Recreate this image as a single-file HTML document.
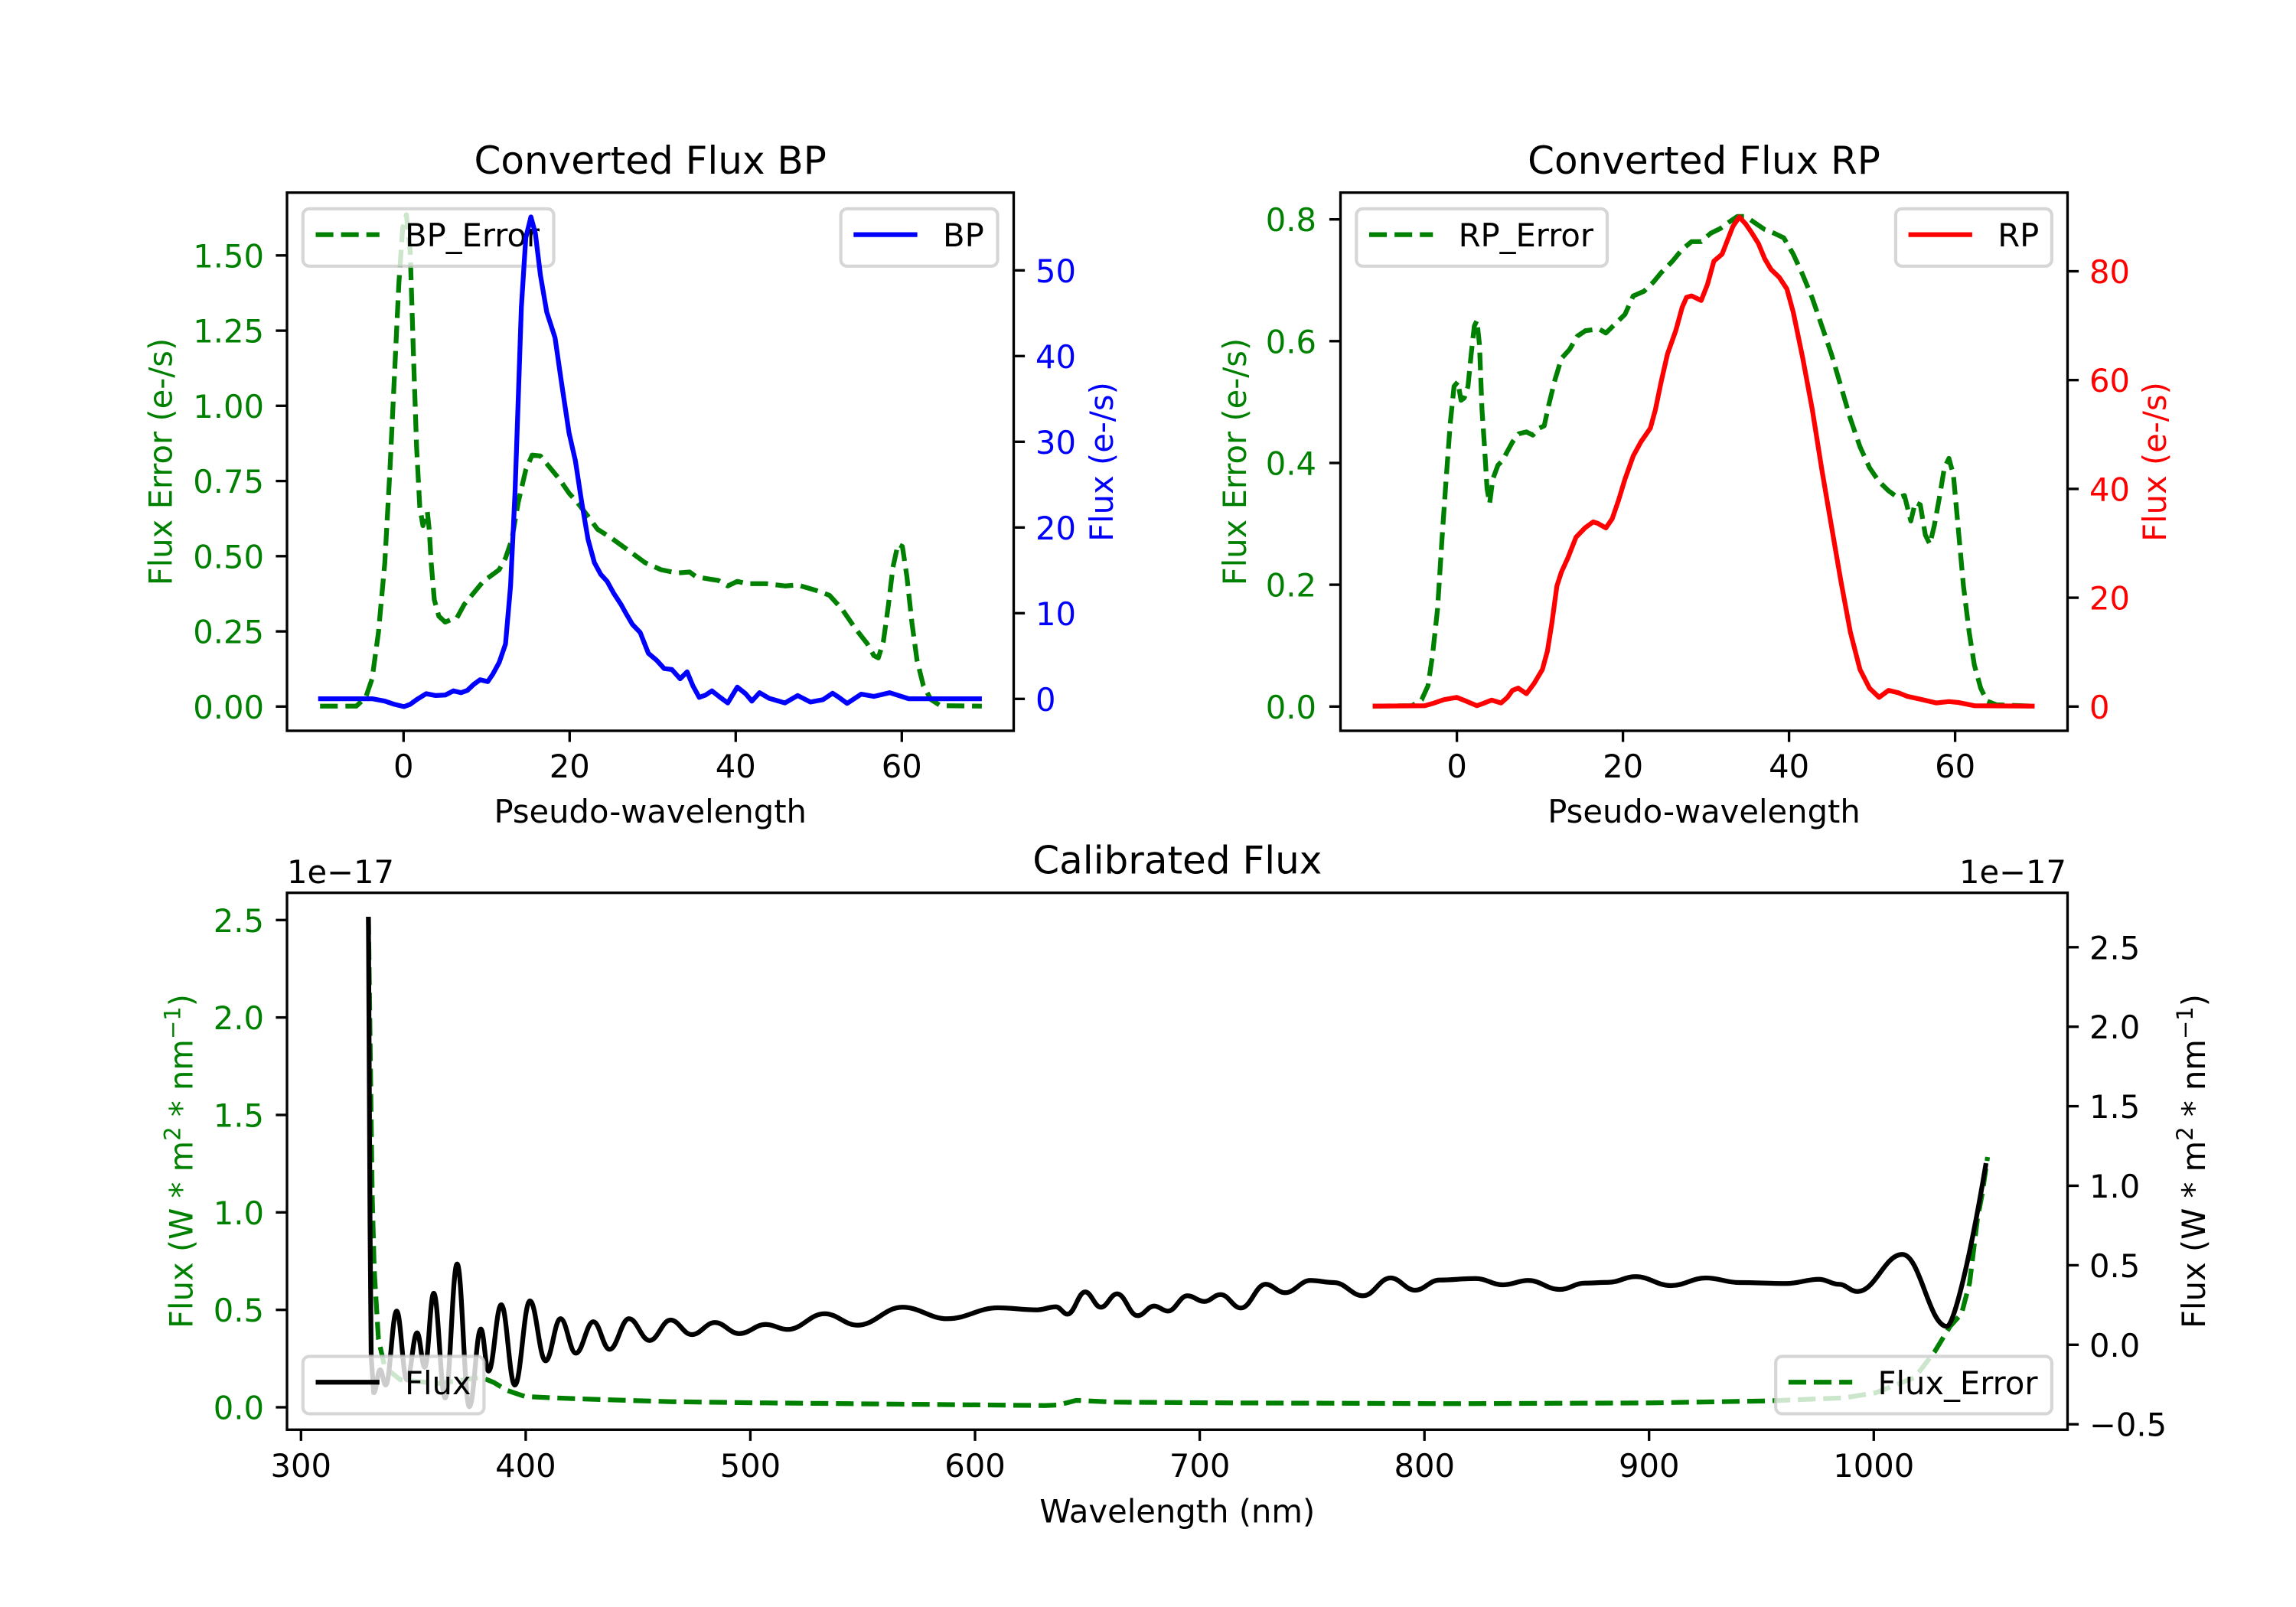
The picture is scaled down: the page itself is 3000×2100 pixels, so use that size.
<!DOCTYPE html>
<html>
<head>
<meta charset="utf-8">
<style>
html,body{margin:0;padding:0;background:#fff;}
svg{display:block;}
text{font-family:"DejaVu Sans","Liberation Sans",sans-serif;}
</style>
</head>
<body>
<svg width="3000" height="2100" viewBox="0 0 3000 2100" xmlns="http://www.w3.org/2000/svg">
<rect x="0" y="0" width="3000" height="2100" fill="#ffffff"/>

<!-- ================= BP PANEL ================= -->
<path fill="none" stroke="#008000" stroke-width="6.25" stroke-dasharray="23.1 10" stroke-linejoin="round" d="M418.2,922.8 L465.5,922.8 L477.9,911.3 L486.2,887.0 L494.5,826.4 L502.8,735.4 L509.5,614.1 L515.3,492.8 L521.1,371.5 L526.1,298.7 L531.0,280.5 L536.0,329.0 L540.2,462.5 L544.3,583.8 L548.5,662.6 L552.6,686.9 L558.4,668.7 L560.9,692.9 L563.4,735.4 L567.5,783.9 L573.4,805.2 L581.7,813.0 L590.0,809.4 L596.6,808.2 L606.5,790.0 L619.0,774.8 L631.4,759.7 L643.9,750.6 L652.2,744.5 L660.5,729.3 L668.8,705.1 L677.1,656.6 L687.0,614.1 L695.3,594.7 L706.1,595.9 L718.6,611.1 L731.0,626.2 L743.5,644.4 L754.3,656.6 L768.4,674.8 L780.8,691.7 L797.4,702.1 L818.2,717.2 L843.0,735.4 L863.8,744.5 L884.5,748.8 L901.1,747.5 L909.4,753.6 L926.0,756.6 L938.5,758.5 L950.9,765.7 L963.4,759.7 L975.8,762.7 L1000.7,762.7 L1025.6,765.7 L1042.2,764.5 L1067.1,771.8 L1083.7,777.9 L1100.3,796.1 L1116.9,820.3 L1133.5,841.6 L1141.8,856.7 L1147.6,859.8 L1154.2,838.5 L1160.9,790.0 L1166.7,741.5 L1173.3,711.2 L1179.1,714.2 L1185.0,753.6 L1191.6,814.3 L1198.2,862.8 L1206.5,896.1 L1216.5,914.3 L1228.9,922.2 L1282.9,922.8"/>
<rect x="395.8" y="272.8" width="327.7" height="75" rx="8.3" fill="#ffffff" fill-opacity="0.8" stroke="#cccccc" stroke-opacity="0.8" stroke-width="4.17"/>
<line x1="412.5" y1="306.6" x2="495.8" y2="306.6" stroke="#008000" stroke-width="6.25" stroke-dasharray="23.1 10"/>
<text x="529" y="322" font-size="41.67" fill="#000">BP_Error</text>
<path fill="none" stroke="#0000ff" stroke-width="6.25" stroke-linejoin="round" d="M415.7,913.1 L486.2,913.1 L502.8,916.2 L515.3,920.4 L527.7,923.4 L536.0,920.4 L544.3,914.3 L556.8,906.5 L569.2,908.9 L581.7,908.3 L592.4,902.8 L602.4,905.2 L610.7,902.2 L619.0,894.3 L627.3,888.3 L637.3,890.7 L643.9,881.0 L652.2,865.8 L660.5,841.6 L667.1,765.7 L672.9,644.4 L677.1,523.1 L681.2,401.8 L687.0,310.8 L693.7,283.5 L699.5,304.8 L706.1,359.4 L714.4,407.9 L725.2,441.2 L733.5,498.9 L743.5,565.6 L751.8,602.0 L760.1,656.6 L768.4,705.1 L776.7,735.4 L785.0,750.6 L793.3,759.7 L801.6,774.8 L811.5,790.0 L818.2,802.1 L826.4,816.1 L836.4,826.4 L847.2,853.7 L857.9,862.8 L867.9,873.7 L877.9,874.9 L888.7,887.0 L897.8,877.9 L905.3,896.1 L913.6,911.3 L921.9,908.3 L930.2,902.8 L941.0,911.3 L950.9,918.6 L963.4,897.9 L974.2,906.5 L982.4,916.2 L992.4,905.2 L1004.9,912.5 L1025.6,918.6 L1042.2,908.9 L1058.8,917.4 L1075.4,914.3 L1087.8,905.9 L1096.1,911.3 L1106.9,919.2 L1125.2,907.1 L1141.8,910.1 L1162.5,905.2 L1187.4,913.1 L1282.9,913.1"/>
<rect x="1098.6" y="272.8" width="204.9" height="75" rx="8.3" fill="#ffffff" fill-opacity="0.8" stroke="#cccccc" stroke-opacity="0.8" stroke-width="4.17"/>
<line x1="1115.3" y1="306.6" x2="1198.6" y2="306.6" stroke="#0000ff" stroke-width="6.25"/>
<text x="1232" y="322" font-size="41.67" fill="#000">BP</text>
<rect x="375" y="251.7" width="949.5" height="703.3" fill="none" stroke="#000" stroke-width="3.33"/>
<g stroke="#000" stroke-width="3.33">
<line x1="360.4" y1="923.3" x2="375" y2="923.3"/>
<line x1="360.4" y1="825.1" x2="375" y2="825.1"/>
<line x1="360.4" y1="726.8" x2="375" y2="726.8"/>
<line x1="360.4" y1="628.6" x2="375" y2="628.6"/>
<line x1="360.4" y1="530.3" x2="375" y2="530.3"/>
<line x1="360.4" y1="432.1" x2="375" y2="432.1"/>
<line x1="360.4" y1="333.8" x2="375" y2="333.8"/>
<line x1="1324.5" y1="913.3" x2="1339.1" y2="913.3"/>
<line x1="1324.5" y1="801.3" x2="1339.1" y2="801.3"/>
<line x1="1324.5" y1="689.3" x2="1339.1" y2="689.3"/>
<line x1="1324.5" y1="577.3" x2="1339.1" y2="577.3"/>
<line x1="1324.5" y1="465.3" x2="1339.1" y2="465.3"/>
<line x1="1324.5" y1="353.3" x2="1339.1" y2="353.3"/>
<line x1="527.3" y1="955" x2="527.3" y2="969.6"/>
<line x1="744.3" y1="955" x2="744.3" y2="969.6"/>
<line x1="961.3" y1="955" x2="961.3" y2="969.6"/>
<line x1="1178.3" y1="955" x2="1178.3" y2="969.6"/>
</g>
<g font-size="41.67" fill="#008000" text-anchor="end">
<text x="345" y="938.8">0.00</text>
<text x="345" y="840.6">0.25</text>
<text x="345" y="742.3">0.50</text>
<text x="345" y="644.1">0.75</text>
<text x="345" y="545.8">1.00</text>
<text x="345" y="447.6">1.25</text>
<text x="345" y="349.3">1.50</text>
</g>
<g font-size="41.67" fill="#0000ff" text-anchor="start">
<text x="1353" y="928.8">0</text>
<text x="1353" y="816.8">10</text>
<text x="1353" y="704.8">20</text>
<text x="1353" y="592.8">30</text>
<text x="1353" y="480.8">40</text>
<text x="1353" y="368.8">50</text>
</g>
<g font-size="41.67" fill="#000" text-anchor="middle">
<text x="527.3" y="1016">0</text>
<text x="744.3" y="1016">20</text>
<text x="961.3" y="1016">40</text>
<text x="1178.3" y="1016">60</text>
<text x="849.7" y="1075">Pseudo-wavelength</text>
</g>
<text x="849.7" y="227" font-size="50" text-anchor="middle" fill="#000">Converted Flux BP</text>
<text transform="translate(224.5,603.5) rotate(-90)" font-size="41.67" text-anchor="middle" fill="#008000">Flux Error (e-/s)</text>
<text transform="translate(1454,603.5) rotate(-90)" font-size="41.67" text-anchor="middle" fill="#0000ff">Flux (e-/s)</text>

<!-- ================= RP PANEL ================= -->
<path fill="none" stroke="#008000" stroke-width="6.25" stroke-dasharray="23.1 10" stroke-linejoin="round" d="M1793.6,922.8 L1845.1,922.2 L1857.6,914.3 L1865.9,896.1 L1871.7,856.7 L1878.3,796.1 L1884.1,705.1 L1889.1,632.3 L1894.9,553.5 L1899.9,504.9 L1904.9,498.9 L1909.0,523.1 L1913.2,520.1 L1918.1,504.9 L1922.3,462.5 L1926.4,426.1 L1929.8,418.8 L1933.1,450.3 L1936.4,535.3 L1939.7,583.8 L1943.0,638.4 L1946.4,657.8 L1950.5,626.2 L1957.2,608.0 L1963.0,602.0 L1969.6,589.8 L1976.2,577.7 L1984.5,566.8 L1994.5,564.4 L2002.8,568.6 L2011.1,559.5 L2017.7,556.5 L2023.6,529.2 L2031.9,495.8 L2040.2,468.5 L2051.0,456.4 L2060.9,439.4 L2071.7,432.1 L2081.7,430.9 L2090.0,430.3 L2098.3,435.2 L2110.7,423.0 L2123.2,410.9 L2134.0,386.7 L2148.1,380.6 L2160.5,368.5 L2170.5,356.3 L2185.4,341.2 L2197.9,326.0 L2210.3,315.7 L2222.8,315.7 L2235.2,304.8 L2247.7,298.7 L2260.1,289.6 L2270.1,282.9 L2280.9,282.9 L2293.3,291.4 L2305.8,299.9 L2318.2,304.8 L2330.7,310.8 L2343.1,332.1 L2355.6,359.4 L2368.0,389.7 L2380.5,426.1 L2392.9,462.5 L2405.4,504.9 L2417.8,547.4 L2430.3,583.8 L2442.7,611.1 L2455.2,629.3 L2467.6,641.4 L2480.1,650.5 L2488.4,647.5 L2496.7,680.8 L2502.5,656.6 L2509.1,659.6 L2515.7,699.0 L2521.6,711.2 L2527.4,686.9 L2534.0,650.5 L2540.6,611.1 L2546.5,599.0 L2552.3,620.2 L2558.9,692.9 L2565.5,765.7 L2573.0,826.4 L2579.7,868.9 L2588.0,899.2 L2596.3,916.2 L2608.7,921.0 L2658.5,922.8"/>
<rect x="1772.3" y="272.8" width="327.7" height="75" rx="8.3" fill="#ffffff" fill-opacity="0.8" stroke="#cccccc" stroke-opacity="0.8" stroke-width="4.17"/>
<line x1="1789" y1="306.6" x2="1872.3" y2="306.6" stroke="#008000" stroke-width="6.25" stroke-dasharray="23.1 10"/>
<text x="1905.6" y="322" font-size="41.67" fill="#000">RP_Error</text>
<path fill="none" stroke="#ff0000" stroke-width="6.25" stroke-linejoin="round" d="M1793.6,922.8 L1861.7,922.2 L1874.2,918.6 L1886.6,914.3 L1903.2,911.3 L1915.7,916.2 L1929.8,922.2 L1938.1,919.2 L1948.9,914.9 L1961.3,918.6 L1969.6,911.3 L1976.2,902.2 L1983.7,899.2 L1994.5,906.5 L2004.5,893.1 L2015.3,874.9 L2021.9,850.7 L2027.7,814.3 L2034.3,765.7 L2040.2,747.5 L2048.5,729.3 L2059.2,702.1 L2070.9,689.9 L2081.7,682.0 L2087.5,683.9 L2098.3,689.9 L2106.6,677.8 L2114.9,653.5 L2123.2,626.2 L2134.0,595.9 L2143.9,577.7 L2156.4,559.5 L2163.0,535.3 L2170.5,498.9 L2178.8,462.5 L2189.6,432.1 L2197.9,401.8 L2203.7,388.5 L2210.3,386.7 L2222.8,392.7 L2231.1,371.5 L2239.4,341.2 L2250.1,332.1 L2256.0,316.9 L2264.3,295.7 L2272.6,283.5 L2280.9,292.6 L2289.2,304.8 L2297.5,318.1 L2305.8,338.1 L2314.1,352.1 L2324.8,362.4 L2334.8,377.6 L2343.1,407.9 L2355.6,468.5 L2368.0,535.3 L2380.5,614.1 L2392.9,686.9 L2405.4,759.7 L2417.8,826.4 L2430.3,874.9 L2442.7,899.2 L2455.2,911.3 L2467.6,902.2 L2480.1,905.2 L2492.5,910.1 L2509.1,913.7 L2529.9,918.6 L2546.5,916.8 L2558.9,918.0 L2579.7,922.2 L2658.5,922.8"/>
<rect x="2476.9" y="272.8" width="204" height="75" rx="8.3" fill="#ffffff" fill-opacity="0.8" stroke="#cccccc" stroke-opacity="0.8" stroke-width="4.17"/>
<line x1="2493.6" y1="306.6" x2="2576.9" y2="306.6" stroke="#ff0000" stroke-width="6.25"/>
<text x="2610.2" y="322" font-size="41.67" fill="#000">RP</text>
<rect x="1751.5" y="251.7" width="950" height="703.3" fill="none" stroke="#000" stroke-width="3.33"/>
<g stroke="#000" stroke-width="3.33">
<line x1="1736.9" y1="923.3" x2="1751.5" y2="923.3"/>
<line x1="1736.9" y1="764.1" x2="1751.5" y2="764.1"/>
<line x1="1736.9" y1="605.0" x2="1751.5" y2="605.0"/>
<line x1="1736.9" y1="445.8" x2="1751.5" y2="445.8"/>
<line x1="1736.9" y1="286.7" x2="1751.5" y2="286.7"/>
<line x1="2701.5" y1="923.3" x2="2716.1" y2="923.3"/>
<line x1="2701.5" y1="781.1" x2="2716.1" y2="781.1"/>
<line x1="2701.5" y1="638.9" x2="2716.1" y2="638.9"/>
<line x1="2701.5" y1="496.7" x2="2716.1" y2="496.7"/>
<line x1="2701.5" y1="354.5" x2="2716.1" y2="354.5"/>
<line x1="1903.6" y1="955" x2="1903.6" y2="969.6"/>
<line x1="2120.6" y1="955" x2="2120.6" y2="969.6"/>
<line x1="2337.6" y1="955" x2="2337.6" y2="969.6"/>
<line x1="2554.6" y1="955" x2="2554.6" y2="969.6"/>
</g>
<g font-size="41.67" fill="#008000" text-anchor="end">
<text x="1720" y="938.8">0.0</text>
<text x="1720" y="779.6">0.2</text>
<text x="1720" y="620.5">0.4</text>
<text x="1720" y="461.3">0.6</text>
<text x="1720" y="302.2">0.8</text>
</g>
<g font-size="41.67" fill="#ff0000" text-anchor="start">
<text x="2730" y="938.8">0</text>
<text x="2730" y="796.6">20</text>
<text x="2730" y="654.4">40</text>
<text x="2730" y="512.2">60</text>
<text x="2730" y="370.0">80</text>
</g>
<g font-size="41.67" fill="#000" text-anchor="middle">
<text x="1903.6" y="1016">0</text>
<text x="2120.6" y="1016">20</text>
<text x="2337.6" y="1016">40</text>
<text x="2554.6" y="1016">60</text>
<text x="2226.5" y="1075">Pseudo-wavelength</text>
</g>
<text x="2226.5" y="227" font-size="50" text-anchor="middle" fill="#000">Converted Flux RP</text>
<text transform="translate(1628,603.5) rotate(-90)" font-size="41.67" text-anchor="middle" fill="#008000">Flux Error (e-/s)</text>
<text transform="translate(2830,603.5) rotate(-90)" font-size="41.67" text-anchor="middle" fill="#ff0000">Flux (e-/s)</text>

<!-- ================= CALIBRATED PANEL ================= -->
<path fill="none" stroke="#008000" stroke-width="6.25" stroke-dasharray="23.1 10" stroke-linejoin="round" d="M481.4,1198 L486.3,1560 L489,1660 L494.5,1750 L502.7,1786.7 L523,1803 L572,1808 L629,1800 L645.5,1806.7 L661.8,1816.7 L686.3,1825 L723,1826.7 L796.5,1829.3 L878,1831.7 L1000.6,1833.3 L1110,1834.3 L1365,1836.7 L1383,1836 L1406,1830 L1457,1832.3 L1610,1833.3 L1900,1834.3 L2155,1833.3 L2308,1830.7 L2410,1826.7 L2451,1820 L2502,1800 L2527.6,1766.7 L2548,1733.3 L2563,1716.7 L2573.5,1676.7 L2583.7,1593.3 L2590,1560 L2597,1512"/>
<rect x="2320.2" y="1772.5" width="360.7" height="75" rx="8.3" fill="#ffffff" fill-opacity="0.8" stroke="#cccccc" stroke-opacity="0.8" stroke-width="4.17"/>
<line x1="2336.9" y1="1806.3" x2="2420.2" y2="1806.3" stroke="#008000" stroke-width="6.25" stroke-dasharray="23.1 10"/>
<text x="2453.5" y="1822" font-size="41.67" fill="#000">Flux_Error</text>
<path fill="none" stroke="#000" stroke-width="6.25" stroke-linejoin="round" d="M481.4,1198 L483.5,1600 L485,1773 L488.3,1820
C491.7,1820 493.3,1790 496.7,1790
C499.6,1790 501.1,1810 504,1810
C509.7,1810 512.6,1713.3 518.3,1713.3
C523.7,1713.3 526.3,1803.3 531.7,1803.3
C537.0,1803.3 539.7,1741.7 545,1741.7
C549,1741.7 551,1786.7 555,1786.7
C559.7,1786.7 562.0,1690 566.7,1690
C572.7,1690 575.7,1826.7 581.7,1826.7
C587.9,1826.7 591.1,1651.7 597.3,1651.7
C603.7,1651.7 606.9,1838.3 613.3,1838.3
C619.3,1838.3 622.3,1736.7 628.3,1736.7
C632.3,1736.7 634.3,1791.7 638.3,1791.7
C645.0,1791.7 648.3,1705 655,1705
C662.1,1705 665.6,1810 672.7,1810
C680.6,1810 684.5,1700 692.4,1700
C700.6,1700 704.7,1778.3 712.9,1778.3
C720.7,1778.3 724.6,1723.3 732.4,1723.3
C740.4,1723.3 744.4,1768.3 752.4,1768.3
C761.6,1768.3 766.1,1727.3 775.3,1727.3
C783.8,1727.3 788.0,1763.3 796.5,1763.3
C806.6,1763.3 811.7,1723.3 821.8,1723.3
C832.6,1723.3 838.0,1751.7 848.8,1751.7
C859.7,1751.7 865.2,1725 876.1,1725
C887.2,1725 892.8,1744 903.9,1744
C916.0,1744 922.0,1728.3 934.1,1728.3
C946.8,1728.3 953.2,1742.7 965.9,1742.7
C979.8,1742.7 986.7,1730.7 1000.6,1730.7
C1012.0,1730.7 1017.8,1737.3 1029.2,1737.3
C1048.4,1737.3 1058.1,1716.7 1077.3,1716.7
C1094.5,1716.7 1103.2,1731.7 1120.4,1731.7
C1143.8,1731.7 1155.6,1708.3 1179,1708.3
C1202.5,1708.3 1214.3,1723.3 1237.8,1723.3
C1264.3,1723.3 1277.5,1709 1304,1709
C1324.4,1709 1334.6,1711.7 1355,1711.7
C1364.8,1711.7 1369.8,1707.7 1379.6,1707.7
C1385.7,1707.7 1388.8,1717.3 1394.9,1717.3
C1404.1,1717.3 1408.7,1688.3 1417.9,1688.3
C1426.1,1688.3 1430.1,1708.3 1438.3,1708.3
C1446.9,1708.3 1451.1,1690.7 1459.7,1690.7
C1470.3,1690.7 1475.6,1719.3 1486.2,1719.3
C1495.0,1719.3 1499.4,1706.7 1508.2,1706.7
C1515.3,1706.7 1518.9,1713.3 1526,1713.3
C1536.2,1713.3 1541.3,1693.3 1551.5,1693.3
C1560.3,1693.3 1564.7,1700.7 1573.5,1700.7
C1582.1,1700.7 1586.3,1691.7 1594.9,1691.7
C1605.5,1691.7 1610.8,1709.3 1621.4,1709.3
C1634.3,1709.3 1640.7,1678.3 1653.6,1678.3
C1663.8,1678.3 1668.9,1689.3 1679.1,1689.3
C1692.3,1689.3 1699.0,1673.3 1712.2,1673.3
C1724.5,1673.3 1730.6,1676 1742.9,1676
C1758.2,1676 1765.8,1693.3 1781.1,1693.3
C1795.4,1693.3 1802.5,1670 1816.8,1670
C1829.7,1670 1836.1,1686 1849,1686
C1861.6,1686 1868.0,1672.7 1880.6,1672.7
C1899.6,1672.7 1909.0,1670.7 1928,1670.7
C1942.3,1670.7 1949.5,1679 1963.8,1679
C1977.0,1679 1983.7,1673.3 1996.9,1673.3
C2013.3,1673.3 2021.4,1685 2037.8,1685
C2051.0,1685 2057.7,1676.7 2070.9,1676.7
C2083.1,1676.7 2089.3,1675.7 2101.5,1675.7
C2115.8,1675.7 2122.9,1668.3 2137.2,1668.3
C2155.6,1668.3 2164.8,1680 2183.2,1680
C2201.6,1680 2210.7,1670 2229.1,1670
C2246.4,1670 2255.1,1676 2272.4,1676
C2296.9,1676 2309.2,1677.3 2333.7,1677.3
C2351.0,1677.3 2359.7,1671.7 2377,1671.7
C2387.2,1671.7 2392.4,1678.3 2402.6,1678.3
C2412.4,1678.3 2417.2,1687.7 2427,1687.7
C2450.5,1687.7 2462.2,1639.3 2485.7,1639.3
C2509.0,1639.3 2520.6,1733.3 2543.9,1733.3
C2553,1733.3 2575,1640 2595,1520"/>
<rect x="395.8" y="1772.5" width="236.6" height="75" rx="8.3" fill="#ffffff" fill-opacity="0.8" stroke="#cccccc" stroke-opacity="0.8" stroke-width="4.17"/>
<line x1="412.5" y1="1806.3" x2="495.8" y2="1806.3" stroke="#000" stroke-width="6.25"/>
<text x="529" y="1822" font-size="41.67" fill="#000">Flux</text>
<rect x="375" y="1166.7" width="2326.5" height="701.6" fill="none" stroke="#000" stroke-width="3.33"/>
<g stroke="#000" stroke-width="3.33">
<line x1="360.4" y1="1839" x2="375" y2="1839"/>
<line x1="360.4" y1="1711.7" x2="375" y2="1711.7"/>
<line x1="360.4" y1="1584.3" x2="375" y2="1584.3"/>
<line x1="360.4" y1="1457.0" x2="375" y2="1457.0"/>
<line x1="360.4" y1="1329.6" x2="375" y2="1329.6"/>
<line x1="360.4" y1="1202.3" x2="375" y2="1202.3"/>
<line x1="2701.5" y1="1861.2" x2="2716.1" y2="1861.2"/>
<line x1="2701.5" y1="1757.3" x2="2716.1" y2="1757.3"/>
<line x1="2701.5" y1="1653.4" x2="2716.1" y2="1653.4"/>
<line x1="2701.5" y1="1549.5" x2="2716.1" y2="1549.5"/>
<line x1="2701.5" y1="1445.6" x2="2716.1" y2="1445.6"/>
<line x1="2701.5" y1="1341.7" x2="2716.1" y2="1341.7"/>
<line x1="2701.5" y1="1237.8" x2="2716.1" y2="1237.8"/>
<line x1="393.3" y1="1868.3" x2="393.3" y2="1882.9"/>
<line x1="686.9" y1="1868.3" x2="686.9" y2="1882.9"/>
<line x1="980.4" y1="1868.3" x2="980.4" y2="1882.9"/>
<line x1="1274.0" y1="1868.3" x2="1274.0" y2="1882.9"/>
<line x1="1567.6" y1="1868.3" x2="1567.6" y2="1882.9"/>
<line x1="1861.2" y1="1868.3" x2="1861.2" y2="1882.9"/>
<line x1="2154.7" y1="1868.3" x2="2154.7" y2="1882.9"/>
<line x1="2448.3" y1="1868.3" x2="2448.3" y2="1882.9"/>
</g>
<g font-size="41.67" fill="#008000" text-anchor="end">
<text x="345" y="1854.5">0.0</text>
<text x="345" y="1727.2">0.5</text>
<text x="345" y="1599.8">1.0</text>
<text x="345" y="1472.5">1.5</text>
<text x="345" y="1345.1">2.0</text>
<text x="345" y="1217.8">2.5</text>
</g>
<g font-size="41.67" fill="#000" text-anchor="start">
<text x="2730" y="1876.7">−0.5</text>
<text x="2730" y="1772.8">0.0</text>
<text x="2730" y="1668.9">0.5</text>
<text x="2730" y="1565.0">1.0</text>
<text x="2730" y="1461.1">1.5</text>
<text x="2730" y="1357.2">2.0</text>
<text x="2730" y="1253.3">2.5</text>
</g>
<g font-size="41.67" fill="#000" text-anchor="middle">
<text x="393.3" y="1930">300</text>
<text x="686.9" y="1930">400</text>
<text x="980.4" y="1930">500</text>
<text x="1274.0" y="1930">600</text>
<text x="1567.6" y="1930">700</text>
<text x="1861.2" y="1930">800</text>
<text x="2154.7" y="1930">900</text>
<text x="2448.3" y="1930">1000</text>
<text x="1538.3" y="1989.5">Wavelength (nm)</text>
</g>
<text x="375" y="1154" font-size="41.67" fill="#000">1e−17</text>
<text x="2700" y="1154" font-size="41.67" fill="#000" text-anchor="end">1e−17</text>
<text x="1538.3" y="1141.7" font-size="50" text-anchor="middle" fill="#000">Calibrated Flux</text>
<text transform="translate(251.5,1517.5) rotate(-90)" font-size="41.67" text-anchor="middle" fill="#008000">Flux (W * m<tspan font-size="29" dy="-16">2</tspan><tspan dy="16"> * nm</tspan><tspan font-size="29" dy="-16">−1</tspan><tspan dy="16">)</tspan></text>
<text transform="translate(2881,1517.5) rotate(-90)" font-size="41.67" text-anchor="middle" fill="#000">Flux (W * m<tspan font-size="29" dy="-16">2</tspan><tspan dy="16"> * nm</tspan><tspan font-size="29" dy="-16">−1</tspan><tspan dy="16">)</tspan></text>
</svg>
</body>
</html>
